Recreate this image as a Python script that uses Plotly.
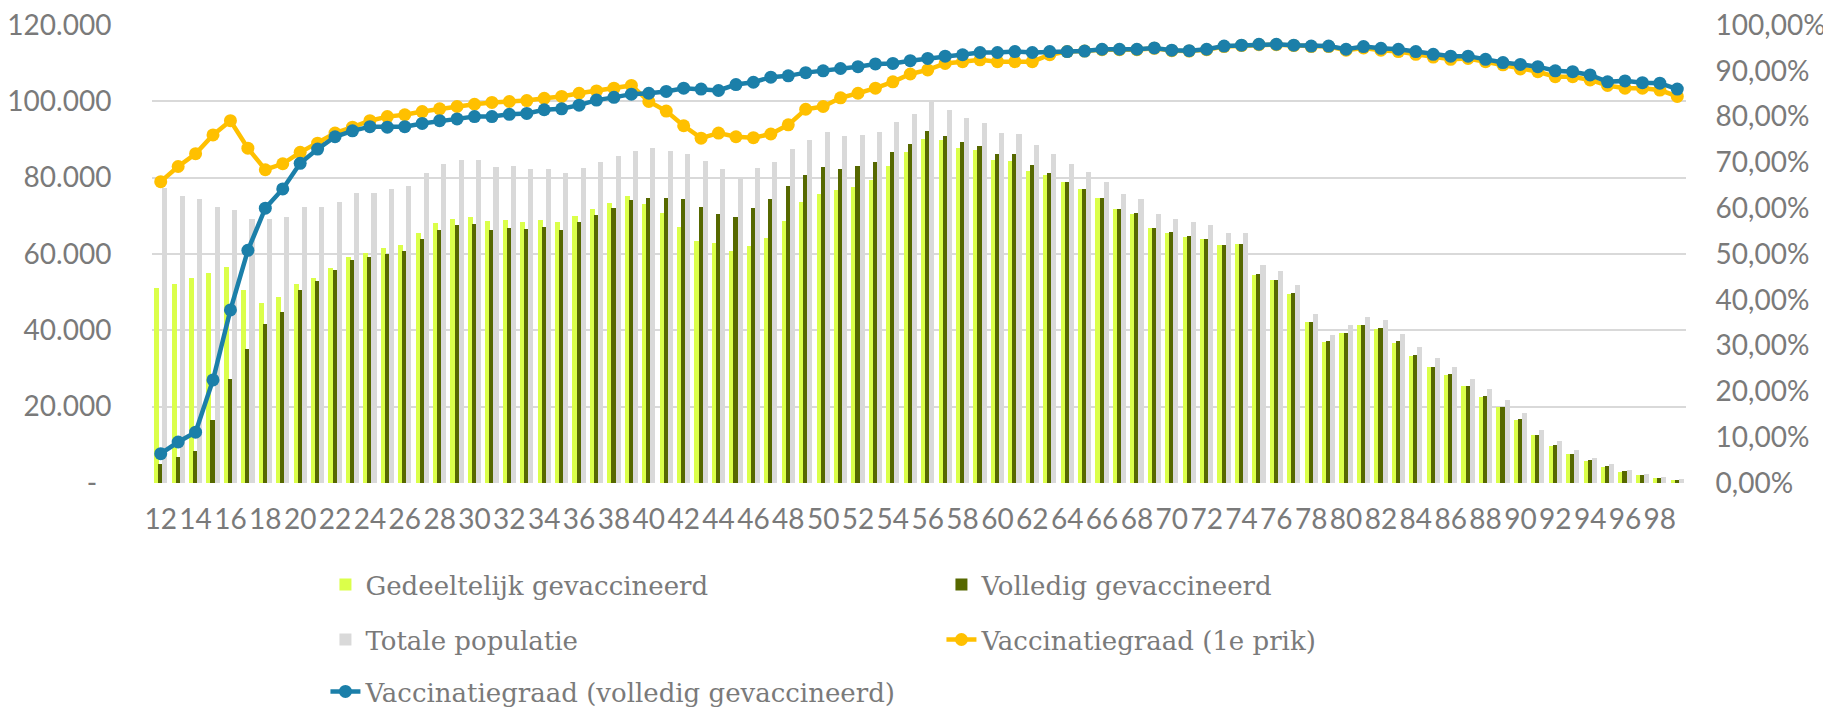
import plotly.graph_objects as go

ages = [str(a) for a in range(12, 100)]

gedeeltelijk = [
    51100, 52100, 53700, 55000, 56500, 50600, 47100, 48700, 52100, 53700,
    56300, 59200, 60200, 61500, 62300, 65500, 68200, 69300, 69700, 68600,
    69000, 68400, 68900, 68300, 70000, 71800, 73400, 75300, 73100, 70700,
    67200, 63400, 62800, 60700, 62100, 64200, 68600, 73500, 75800, 76700,
    77600, 79400, 83100, 86600, 90200, 89900, 87900, 87300, 84700, 84400,
    81700, 80700, 78900, 77000, 74600, 71700, 70500, 66800, 65500, 64500,
    63900, 62400, 62500, 54600, 53100, 49600, 42100, 37000, 39200, 41400,
    40400, 36800, 33300, 30400, 28200, 25300, 22500, 19800, 16500, 12500,
    9800, 7600, 5800, 4300, 3000, 2100, 1350, 880]

volledig = [
    5000, 6900, 8400, 16600, 27200, 35200, 41600, 44900, 50600, 52900,
    55900, 58400, 59300, 60000, 60700, 63900, 66300, 67500, 67800, 66400,
    66900, 66600, 67000, 66400, 68300, 70300, 72100, 74200, 74800, 74600,
    74400, 72400, 70500, 69700, 72100, 74400, 77900, 80600, 82900, 82300,
    83000, 84100, 86600, 88800, 92100, 90800, 89300, 88400, 86200, 86200,
    83200, 81200, 78900, 77100, 74700, 71800, 70700, 66900, 65700, 64800,
    64000, 62400, 62600, 54700, 53200, 49700, 42200, 37100, 39300, 41500,
    40600, 37100, 33600, 30500, 28500, 25500, 22700, 19900, 16800, 12700,
    10000, 7600, 5900, 4400, 3100, 2200, 1400, 900]

totaal = [
    77200, 75200, 74400, 72400, 71400, 69100, 69100, 69800, 72200, 72300,
    73700, 75900, 76100, 77100, 77800, 81200, 83600, 84700, 84600, 82800,
    83000, 82200, 82200, 81200, 82600, 84200, 85600, 87100, 87800, 87100,
    86100, 84300, 82300, 80300, 82500, 84000, 87400, 89900, 92000, 91000,
    91300, 91900, 94500, 96600, 99700, 97600, 95600, 94200, 91800, 91500,
    88500, 86100, 83500, 81500, 78800, 75800, 74400, 70400, 69300, 68300,
    67500, 65500, 65500, 57100, 55600, 51900, 44200, 38800, 41500, 43600,
    42800, 39100, 35600, 32700, 30500, 27300, 24500, 21700, 18300, 14000,
    11100, 8600, 6600, 5000, 3500, 2400, 1600, 1050]

graad_1e = [
    0.658, 0.691, 0.719, 0.760, 0.791, 0.731, 0.684, 0.697, 0.722, 0.742,
    0.764, 0.777, 0.791, 0.800, 0.804, 0.811, 0.817, 0.822, 0.827, 0.831,
    0.833, 0.835, 0.840, 0.844, 0.851, 0.856, 0.862, 0.868, 0.833, 0.812,
    0.780, 0.753, 0.764, 0.756, 0.754, 0.762, 0.782, 0.816, 0.822, 0.841,
    0.851, 0.862, 0.876, 0.893, 0.902, 0.916, 0.920, 0.924, 0.920, 0.920,
    0.920, 0.935, 0.942, 0.943, 0.946, 0.946, 0.946, 0.949, 0.944, 0.943,
    0.946, 0.953, 0.955, 0.957, 0.957, 0.955, 0.953, 0.953, 0.945, 0.950,
    0.945, 0.942, 0.936, 0.930, 0.925, 0.927, 0.920, 0.913, 0.904, 0.898,
    0.887, 0.887, 0.880, 0.868, 0.862, 0.862, 0.858, 0.844]

graad_volledig = [
    0.064, 0.0895, 0.111, 0.225, 0.378, 0.508, 0.600, 0.642, 0.698, 0.729,
    0.756, 0.769, 0.778, 0.777, 0.778, 0.785, 0.791, 0.795, 0.800, 0.800,
    0.805, 0.807, 0.815, 0.817, 0.825, 0.836, 0.842, 0.849, 0.851, 0.855,
    0.862, 0.860, 0.857, 0.870, 0.875, 0.886, 0.889, 0.896, 0.900, 0.905,
    0.909, 0.915, 0.916, 0.922, 0.927, 0.932, 0.935, 0.940, 0.940, 0.942,
    0.940, 0.942, 0.942, 0.943, 0.947, 0.947, 0.947, 0.950, 0.945, 0.944,
    0.947, 0.954, 0.956, 0.958, 0.958, 0.956, 0.954, 0.954, 0.947, 0.953,
    0.949, 0.947, 0.942, 0.936, 0.932, 0.932, 0.925, 0.918, 0.914, 0.909,
    0.900, 0.898, 0.891, 0.876, 0.878, 0.874, 0.873, 0.860]

left_tickvals = [0, 20000, 40000, 60000, 80000, 100000, 120000]
left_ticktext = ["-\u00a0\u00a0", "20.000", "40.000", "60.000", "80.000", "100.000", "120.000"]
right_tickvals = [i / 10 for i in range(11)]
right_ticktext = ["0,00%", "10,00%", "20,00%", "30,00%", "40,00%", "50,00%",
                  "60,00%", "70,00%", "80,00%", "90,00%", "100,00%"]
x_ticks = [str(a) for a in range(12, 100, 2)]

GREY_TXT = "#7a7a7a"
TICK_FONT = dict(family="Lato, 'Open Sans', sans-serif", size=28, color=GREY_TXT)
LEG_FONT = dict(family="'DejaVu Serif', serif", size=26, color=GREY_TXT)

fig = go.Figure()
bw = 0.29
fig.add_trace(go.Bar(x=ages, y=gedeeltelijk, name="Gedeeltelijk gevaccineerd",
                     marker=dict(color="#DBFF4A", line=dict(width=0)),
                     width=bw, offset=-0.38, legend="legend"))
fig.add_trace(go.Bar(x=ages, y=volledig, name="Volledig gevaccineerd",
                     marker=dict(color="#566800", line=dict(width=0)),
                     width=bw, offset=-0.145, legend="legend"))
fig.add_trace(go.Bar(x=ages, y=totaal, name="Totale populatie",
                     marker=dict(color="#D9D9D9", line=dict(width=0)),
                     width=bw, offset=0.09, legend="legend2"))
fig.add_trace(go.Scatter(x=ages, y=graad_1e, name="Vaccinatiegraad (1e prik)",
                         yaxis="y2", mode="lines+markers",
                         line=dict(color="#FFC000", width=4.5),
                         marker=dict(color="#FFC000", size=13),
                         legend="legend2"))
fig.add_trace(go.Scatter(x=ages, y=graad_volledig, name="Vaccinatiegraad (volledig gevaccineerd)",
                         yaxis="y2", mode="lines+markers",
                         line=dict(color="#1B7FA9", width=4.5),
                         marker=dict(color="#1B7FA9", size=13),
                         legend="legend3"))

# page body has an 8px default margin; figure is sized to fit inside the window
OFF = 8
W, H = 1831 - OFF, 711 - OFF
L, T = 151.5 - OFF, 25 - OFF
R = 1831 - 1686
B = 711 - 483.3
plot_w = W - L - R
plot_h = H - T - B


def page_to_paper_y(ypage):
    return (H - B - (ypage - OFF)) / plot_h


def page_to_paper_x(xpage):
    return ((xpage - OFF) - L) / plot_w


leg_common = dict(orientation="h", xanchor="left", yanchor="middle",
                  font=LEG_FONT, bgcolor="rgba(0,0,0,0)",
                  entrywidth=571, entrywidthmode="pixels")

fig.update_layout(
    width=W, height=H,
    margin=dict(l=L, r=R, t=T, b=B, autoexpand=False),
    paper_bgcolor="white", plot_bgcolor="white",
    barmode="overlay",
    bargap=0,
    xaxis=dict(type="category", range=[-0.5, len(ages) - 0.5],
               tickvals=x_ticks, ticktext=x_ticks,
               tickangle=0, tickfont=TICK_FONT, showgrid=False,
               ticks="outside", ticklen=11, tickcolor="rgba(0,0,0,0)",
               showline=False, zeroline=False),
    yaxis=dict(range=[0, 120000], tickvals=left_tickvals, ticktext=left_ticktext,
               tickfont=TICK_FONT, showgrid=True, gridcolor="#D9D9D9", gridwidth=1.5,
               zeroline=False, showline=False, ticklabeloverflow="allow",
               ticks="outside", ticklen=34, tickcolor="rgba(0,0,0,0)"),
    yaxis2=dict(range=[0, 1], overlaying="y", side="right",
                tickvals=right_tickvals, ticktext=right_ticktext,
                tickfont=TICK_FONT, showgrid=False, zeroline=False, showline=False,
                ticklabeloverflow="allow",
                ticks="outside", ticklen=23, tickcolor="rgba(0,0,0,0)"),
    legend=dict(x=page_to_paper_x(325), y=page_to_paper_y(585), **leg_common),
    legend2=dict(x=page_to_paper_x(325), y=page_to_paper_y(640), **leg_common),
    legend3=dict(x=page_to_paper_x(325), y=page_to_paper_y(692), **leg_common),
    showlegend=True,
)

fig.write_html("out.html")
